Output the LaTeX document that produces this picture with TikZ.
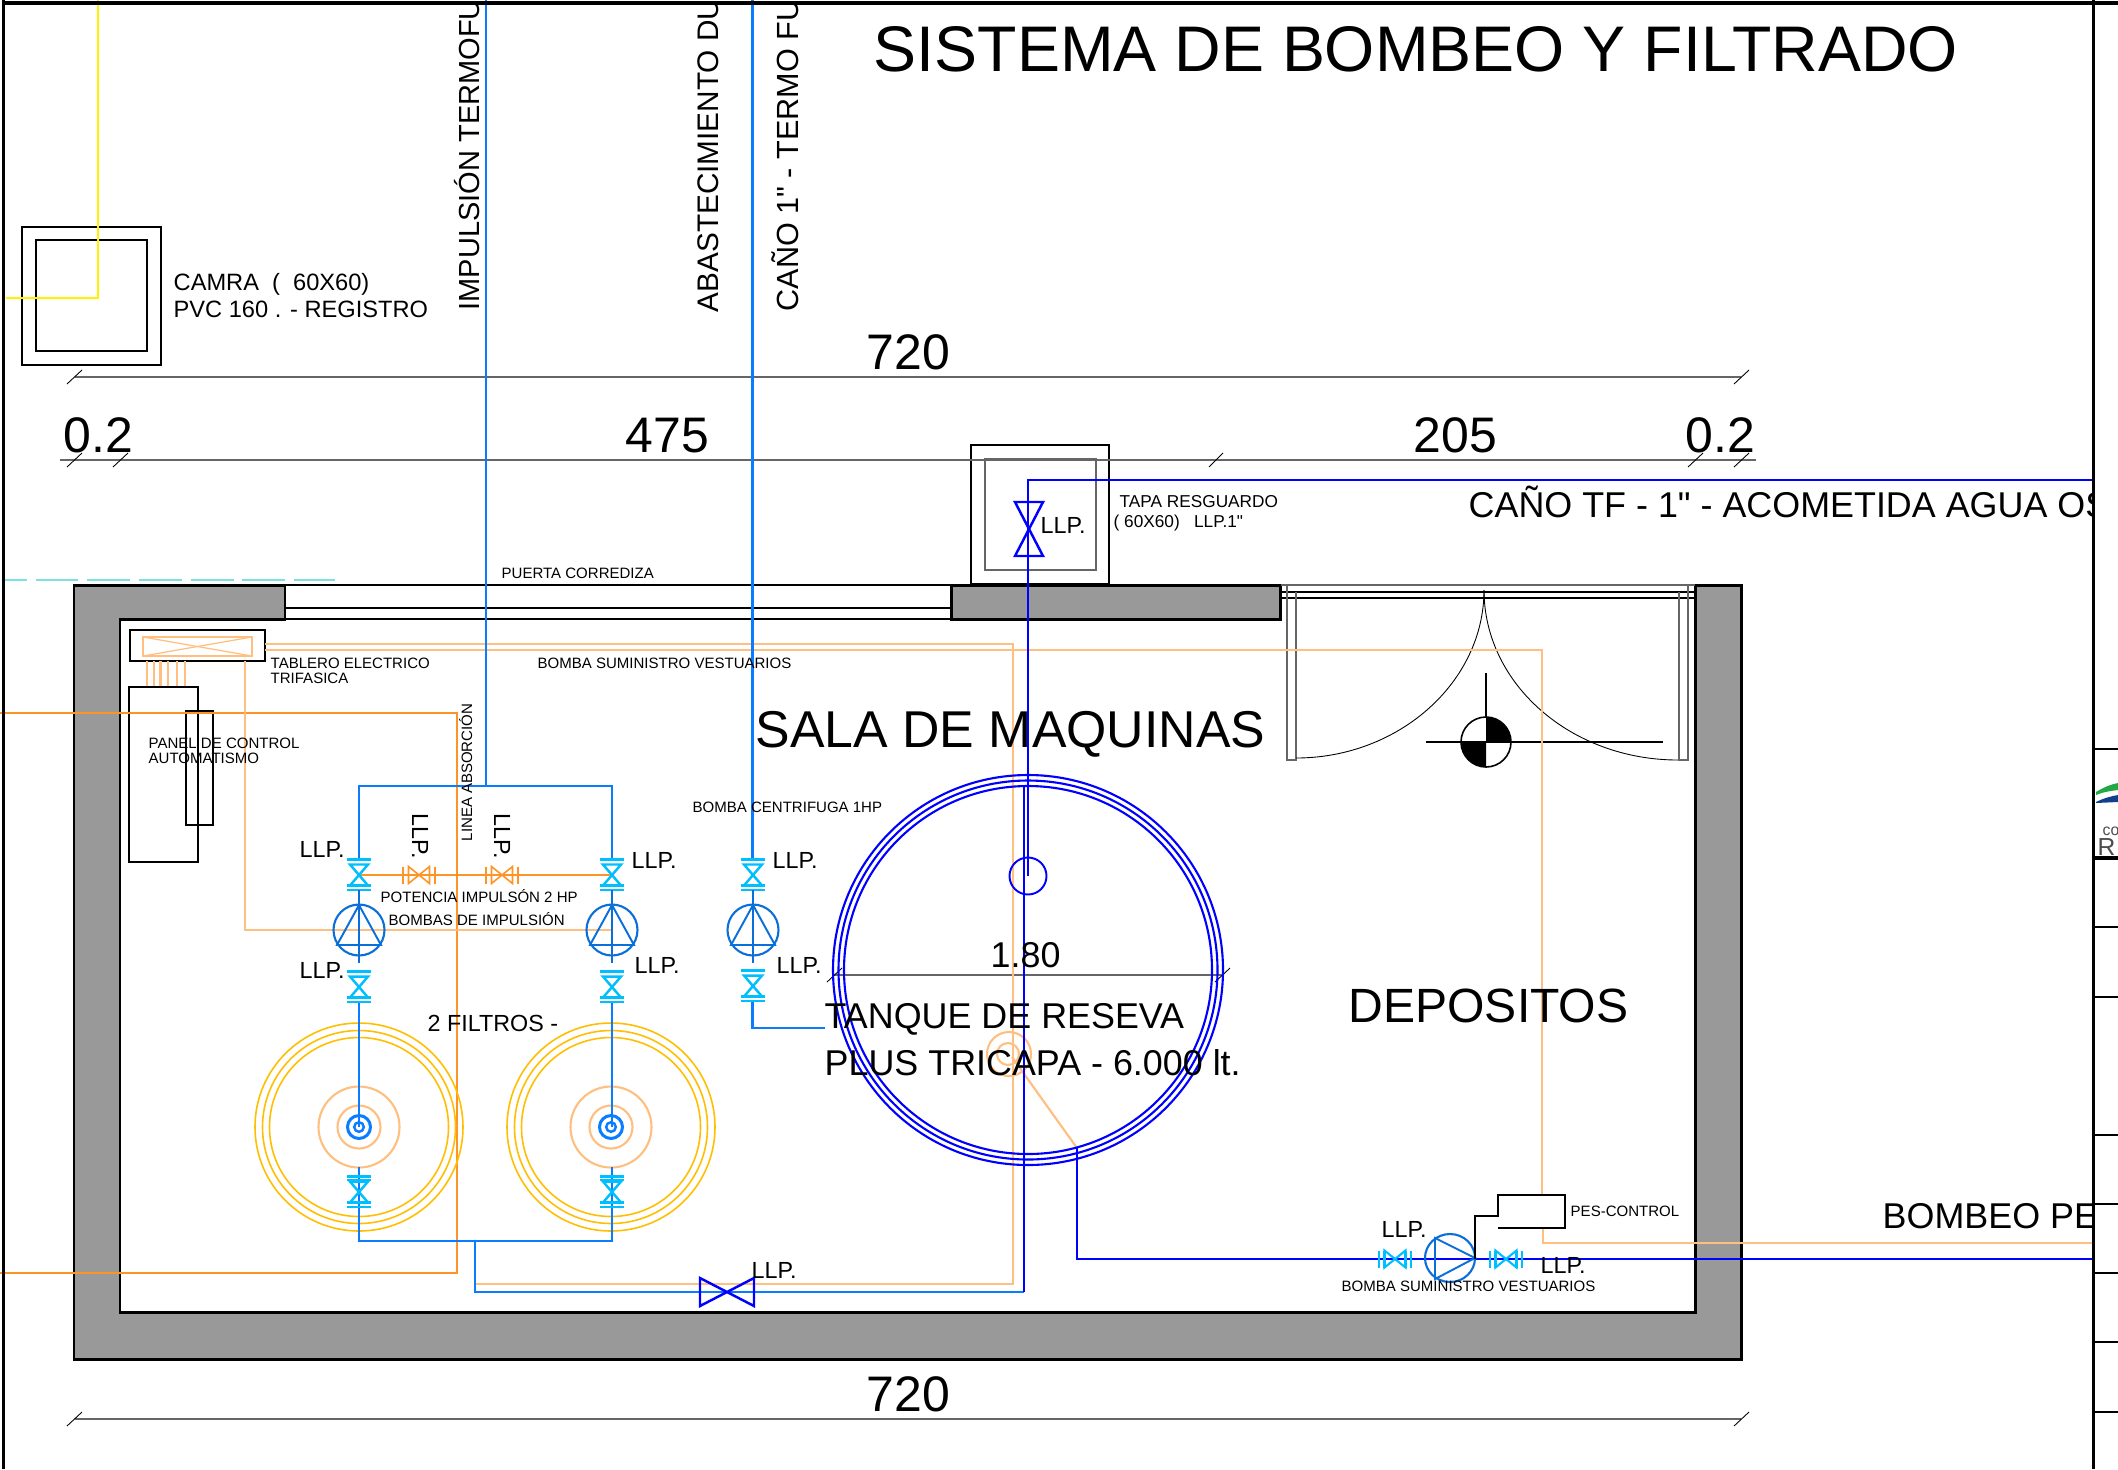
\documentclass[tikz,border=0pt]{standalone}
\usepackage{fontspec}
\setmainfont{Liberation Sans}[Ligatures=TeXOff]

\definecolor{wallgray}{HTML}{999999}
\definecolor{pipeblue}{HTML}{0A7CFF}
\definecolor{darkblue}{HTML}{0000FF}
\definecolor{pumpblue}{HTML}{0A6FD8}
\definecolor{valvecyan}{HTML}{00BFFF}
\definecolor{wireorange}{HTML}{FF9426}
\definecolor{lightorange}{HTML}{FFBF80}
\definecolor{filteryellow}{HTML}{FFBF00}
\definecolor{dimgray}{HTML}{666666}
\definecolor{dashcyan}{HTML}{7FE0E0}
\definecolor{logogreen}{HTML}{22A845}
\definecolor{logoblue}{HTML}{123F8C}

\tikzset{
  lbl/.style={inner sep=0pt, anchor=base west, text=black},
  txtxs/.style={lbl, font=\fontsize{4.27}{5}\selectfont},
  txtsm/.style={lbl, font=\fontsize{4.9}{5}\selectfont},
  txtllp/.style={lbl, font=\fontsize{6.63}{7}\selectfont},
  txtcam/.style={lbl, font=\fontsize{6.72}{7}\selectfont},
  txtvert/.style={lbl, rotate=90, font=\fontsize{#1}{9}\selectfont},
  txtmd/.style={lbl, font=\fontsize{10.2}{11}\selectfont},
  txtlg/.style={lbl, font=\fontsize{14.2}{15}\selectfont},
  txtroom/.style={lbl, font=\fontsize{#1}{16}\selectfont},
  txttitle/.style={lbl, font=\fontsize{18.33}{20}\selectfont},
  thinblack/.style={black, line width=0.35pt},
  dimline/.style={dimgray, line width=0.45pt},
  tick/.style={black, line width=0.25pt},
  pipe/.style={pipeblue, line width=0.7pt},
  dkpipe/.style={darkblue, line width=0.65pt},
  cyanpipe/.style={valvecyan, line width=0.7pt},
  ltwire/.style={lightorange, line width=0.6pt},
  wire/.style={wireorange, line width=0.55pt},
  filt/.style={filteryellow, line width=0.45pt},
  wall/.style={black, fill=wallgray, line width=0.85pt, line join=miter},
  frameline/.style={black, line width=1pt},
  celline/.style={black, line width=0.6pt}
}

% vertical valve with flanges
\newcommand{\vvalve}[2]{
  \draw[cyanpipe] (#1-12,#2-15.5) -- (#1+12,#2-15.5);
  \draw[cyanpipe] (#1-9,#2-10.5) -- (#1+9,#2-10.5) -- (#1-9,#2+10.5) -- (#1+9,#2+10.5) -- cycle;
  \draw[cyanpipe] (#1-12,#2+10.5) -- (#1+12,#2+10.5);
  \draw[cyanpipe] (#1-12,#2+15) -- (#1+12,#2+15);
}
% horizontal valve, colour as third argument
\newcommand{\hvalve}[3]{
  \draw[#3] (#1-16,#2-8.5) -- (#1-16,#2+8.5);
  \draw[#3] (#1-10.5,#2-8.5) -- (#1-10.5,#2+8.5);
  \draw[#3] (#1-10.5,#2-8.5) -- (#1+10.5,#2+8.5) -- (#1+10.5,#2-8.5) -- (#1-10.5,#2+8.5) -- cycle;
  \draw[#3] (#1+10.5,#2-8.5) -- (#1+10.5,#2+8.5);
  \draw[#3] (#1+16,#2-8.5) -- (#1+16,#2+8.5);
}
% pump seen from above
\newcommand{\vpump}[2]{
  \draw[pumpblue, line width=0.6pt] (#1,#2) circle [radius=25.5];
  \draw[pumpblue, line width=0.55pt] (#1,#2-25) -- (#1-22,#2+15) -- (#1+22,#2+15) -- cycle;
  \draw[pumpblue, line width=0.8pt] (#1,#2-40) -- (#1,#2+33);
}
% filter rings
\newcommand{\filterrings}[2]{
  \draw[filt] (#1,#2) circle [radius=104];
  \draw[filt] (#1,#2) circle [radius=96.5];
  \draw[filt] (#1,#2) circle [radius=89.5];
  \draw[ltwire] (#1,#2) circle [radius=40.5];
  \draw[ltwire] (#1,#2) circle [radius=21.5];
  \draw[pipeblue, line width=0.85pt] (#1,#2) circle [radius=11.5];
  \draw[pipeblue, line width=0.7pt] (#1,#2) circle [radius=4.8];
}

\begin{document}
\begin{tikzpicture}[x=0.01cm, y=-0.01cm]
  \useasboundingbox (0,0) rectangle (2118,1469);
  \fill[white] (0,0) rectangle (2118,1469);

  % walls
  \draw[wall] (74,585) -- (285,585) -- (285,619) -- (120,619) -- (120,1312) -- (1695,1312)
     -- (1695,585) -- (1741,585) -- (1741,1359) -- (74,1359) -- cycle;
  \draw[wall] (951,585) rectangle (1280,619);

  % sliding door
  \draw[thinblack] (285,585) -- (951,585);
  \draw[thinblack] (285,608) -- (951,608);
  \draw[thinblack] (285,619) -- (951,619);
  \draw[black, line width=0.8pt] (844,619) -- (951,619);

  % double door
  \draw[dimline] (1281,585) -- (1695,585);
  \draw[thinblack] (1281,592) -- (1695,592);
  \draw[thinblack] (1281,598) -- (1695,598);
  \draw[dimline] (1287,585) -- (1287,760) -- (1296,760) -- (1296,592);
  \draw[dimline] (1679,592) -- (1679,760) -- (1688,760) -- (1688,585);
  \draw[tick] (1296,758) .. controls (1399,758) and (1484,682) .. (1484,590);
  \draw[tick] (1678,760) .. controls (1571,760) and (1484,684) .. (1484,590);

  % level mark
  \draw[black, line width=0.45pt] (1426,742) -- (1663,742);
  \draw[black, line width=0.45pt] (1486,673) -- (1486,742);
  \fill[white] (1486,742) circle [radius=25];
  \fill[black] (1486,742) -- (1486,717) arc[start angle=-90, end angle=0, radius=25] -- cycle;
  \fill[black] (1486,742) -- (1486,767) arc[start angle=90, end angle=180, radius=25] -- cycle;
  \draw[black, line width=0.45pt] (1486,742) circle [radius=25];
  \draw[black, line width=0.45pt] (1461,742) -- (1511,742);

  % chamber boxes
  \draw[thinblack] (22,227) rectangle (161,365);
  \draw[thinblack] (36,240) rectangle (147,351);
  \draw[thinblack] (971,445) rectangle (1109,584);
  \draw[dimline] (985,459) rectangle (1096,570);
  \draw[yellow, line width=0.6pt] (98,0) -- (98,298) -- (6,298);
  \draw[dashcyan, line width=0.55pt, dash pattern=on 12.2pt off 2.5pt, dash phase=6pt] (5,580) -- (335,580);

  % dimensions
  \draw[dimline] (75,377) -- (1741,377);
  \draw[dimline] (60,460) -- (1756,460);
  \draw[dimline] (75,1419) -- (1741,1419);
  \draw[dimline] (834,975) -- (1222,975);
  \draw[tick] (67,384) -- (82,370);
  \draw[tick] (1734,384) -- (1749,370);
  \draw[tick] (67,467) -- (82,453);
  \draw[tick] (113,467) -- (128,453);
  \draw[tick] (1209,467) -- (1223,453);
  \draw[tick] (1688,467) -- (1703,453);
  \draw[tick] (1734,467) -- (1749,453);
  \draw[tick] (67,1426) -- (82,1412);
  \draw[tick] (1734,1426) -- (1749,1412);
  \draw[tick] (827,982) -- (842,968);
  \draw[tick] (1215,982) -- (1230,968);

  % panel and switchboard
  \draw[black, line width=0.65pt] (130,630) rectangle (265,661);
  \draw[ltwire] (143,637) rectangle (252,656);
  \draw[ltwire, line width=0.35pt] (143,637) -- (252,656);
  \draw[ltwire, line width=0.35pt] (143,656) -- (252,637);
  \draw[ltwire] (147,661) -- (147,687);
  \draw[ltwire] (154,661) -- (154,687);
  \draw[ltwire] (160.5,661) -- (160.5,687);
  \draw[ltwire] (168,661) -- (168,687);
  \draw[ltwire] (177,661) -- (177,687);
  \draw[ltwire] (185,661) -- (185,687);
  \draw[black, line width=0.5pt] (129,687) rectangle (198,862);
  \draw[black, line width=0.5pt] (186,711) rectangle (213,825);

  % wires
  \draw[wire] (0,713) -- (457,713) -- (457,1273) -- (0,1273);
  \draw[wire] (359,875) -- (612,875);
  \draw[ltwire] (245,661) -- (245,930) -- (612,930);
  \draw[ltwire] (265,644) -- (1013,644) -- (1013,1284) -- (475,1284);
  \draw[ltwire] (265,650) -- (1542,650) -- (1542,1195);
  \draw[ltwire] (1543,1228) -- (1543,1243) -- (2093,1243);
  \draw[ltwire] (1009,1054) circle [radius=22];
  \draw[ltwire] (1008,1054) circle [radius=11];
  \draw[ltwire] (1012,1057) -- (1077,1148);
  \hvalve{419}{875}{wireorange, line width=0.45pt}
  \hvalve{502}{875}{wireorange, line width=0.45pt}

  % filters
  \filterrings{359}{1127}
  \filterrings{611}{1127}

  % tank
  \draw[darkblue, line width=0.6pt] (1028,970) circle [radius=195];
  \draw[darkblue, line width=0.6pt] (1028,970) circle [radius=189.5];
  \draw[darkblue, line width=0.6pt] (1028,970) circle [radius=184];
  \draw[darkblue, line width=0.55pt] (1028,876) circle [radius=18.5];

  % pipes
  \draw[pipe] (486,0) -- (486,786);
  \draw[pipe] (359,859) -- (359,786) -- (612,786) -- (612,859);
  \draw[pipe] (359,1001) -- (359,1127);
  \draw[pipe] (612,1001) -- (612,1127);
  \draw[pipe] (359,1167) -- (359,1241) -- (612,1241) -- (612,1167);
  \draw[pipe] (475,1241) -- (475,1292) -- (1024,1292);
  \draw[pipe] (752.5,0) -- (752.5,859);
  \draw[pipe] (752.5,1001) -- (752.5,1028) -- (825,1028);
  \draw[dkpipe] (1024,1292) -- (1024,785);
  \draw[dkpipe] (1028,876) -- (1028,480) -- (2093,480);
  \draw[dkpipe] (1077,1148) -- (1077,1259) -- (2093,1259);

  % valves and pumps
  \vvalve{359}{875}
  \vvalve{612}{875}
  \vvalve{753}{875}
  \vpump{359}{930}
  \vpump{612}{930}
  \vpump{753}{930}
  \vvalve{359}{987}
  \vvalve{612}{987}
  \vvalve{753}{986}
  \vvalve{359}{1192}
  \vvalve{612}{1192}
  \draw[cyanpipe] (347,1180) -- (371,1180);
  \draw[cyanpipe] (600,1180) -- (624,1180);
  \draw[darkblue, line width=0.7pt] (700,1278) -- (754,1306) -- (754,1278) -- (700,1306) -- cycle;
  \draw[darkblue, line width=0.7pt] (1015,502) -- (1043,502) -- (1015,556) -- (1043,556) -- cycle;

  % bottom pump
  \draw[pumpblue, line width=0.6pt] (1450,1258) ellipse [x radius=25, y radius=24];
  \draw[pumpblue, line width=0.55pt] (1435,1238) -- (1475,1258) -- (1435,1279) -- cycle;
  \hvalve{1395}{1259}{valvecyan, line width=0.6pt}
  \hvalve{1506}{1259}{valvecyan, line width=0.6pt}
  \draw[black, line width=0.5pt] (1475,1259) -- (1475,1216) -- (1498,1216) -- (1498,1195)
     -- (1565,1195) -- (1565,1228) -- (1498,1228);

  % labels
  \node[txttitle] (title) at (873,71) {SISTEMA DE BOMBEO Y FILTRADO};
  \node[txtcam] (camra) at (173,290) {CAMRA~~(~~60X60)};
  \node[txtcam] (pvc) at (173,317) {PVC 160 . - REGISTRO};
  \node[txtlg] (dimTop) at (866,369) {720};
  \node[txtlg] (dimLeft) at (63,452) {0.2};
  \node[txtlg] (dimMid) at (625,452) {475};
  \node[txtlg] (dimRightA) at (1413,452) {205};
  \node[txtlg] (dimRightB) at (1685,452) {0.2};
  \node[txtlg] (dimBottom) at (866,1411) {720};
  \node[txtxs] (puerta) at (501,578) {PUERTA CORREDIZA};
  \node[txtsm] (tapaA) at (1119,507) {TAPA RESGUARDO};
  \node[txtsm] (tapaB) at (1113,527) {( 60X60)~~~LLP.1"};
  \node[txtxs] (tableroA) at (270,668) {TABLERO ELECTRICO};
  \node[txtxs] (tableroB) at (270,683) {TRIFASICA};
  \node[txtxs] (suministro) at (537,668) {BOMBA SUMINISTRO VESTUARIOS};
  \node[txtxs] (panelA) at (148,748) {PANEL DE CONTROL};
  \node[txtxs] (panelB) at (148,763) {AUTOMATISMO};
  \node[txtxs, rotate=90] (linea) at (472,842) {LINEA ABSORCIÓN};
  \node[txtxs] (potencia) at (380,902) {POTENCIA IMPULSÓN 2 HP};
  \node[txtxs] (bombas) at (388,925) {BOMBAS DE IMPULSIÓN};
  \node[txtllp] (filtros) at (427,1031) {2 FILTROS -};
  \node[txtxs] (centrifuga) at (692,812) {BOMBA CENTRIFUGA 1HP};
  \node[txtroom=14.73] (sala) at (755,747) {SALA DE MAQUINAS};
  \node[txtmd] (diam) at (990,967) {1.80};
  \node[txtmd] (tanqueA) at (824,1028) {TANQUE DE RESEVA};
  \node[txtmd] (tanqueB) at (824,1075) {PLUS TRICAPA - 6.000 lt.};
  \node[txtroom=13.67] (depositos) at (1348,1022) {DEPOSITOS};
  \node[txtxs] (pes) at (1570,1216) {PES-CONTROL};
  \node[txtxs] (vestuarios) at (1341,1291) {BOMBA SUMINISTRO VESTUARIOS};
  \node[txtllp] (llpA) at (299,857) {LLP.};
  \node[txtllp] (llpB) at (631,868) {LLP.};
  \node[txtllp] (llpC) at (299,978) {LLP.};
  \node[txtllp] (llpD) at (634,973) {LLP.};
  \node[txtllp, rotate=-90] (llpE) at (412,813) {LLP.};
  \node[txtllp, rotate=-90] (llpF) at (494,813) {LLP.};
  \node[txtllp] (llpG) at (772,868) {LLP.};
  \node[txtllp] (llpH) at (776,973) {LLP.};
  \node[txtllp] (llpI) at (1040,533) {LLP.};
  \node[txtllp] (llpJ) at (751,1278) {LLP.};
  \node[txtllp] (llpK) at (1381,1237) {LLP.};
  \node[txtllp] (llpL) at (1540,1273) {LLP.};

  % labels cut by the sheet frame
  \begin{scope}
    \clip (5,5) rectangle (2092,1469);
    \node[txtvert=8.25] (impulsion) at (479,311) {IMPULSIÓN TERMOFU};
    \node[txtvert=8.46] (abasto) at (718,313) {ABASTECIMIENTO DU};
    \node[txtvert=8.7] (cano) at (798,312) {CAÑO 1" - TERMO FU};
    \node[txtmd] (acometida) at (1468,517) {CAÑO TF - 1" - ACOMETIDA AGUA OS};
    \node[txtmd] (bombeo) at (1882,1228) {BOMBEO PE};
  \end{scope}

  % logo at the sheet edge
  \fill[logogreen] (2096,792) .. controls (2104,787) and (2112,784) .. (2118,783) -- (2118,790) .. controls (2110,791) and (2103,792) .. (2096,795) -- cycle;
  \fill[logoblue] (2096,802) .. controls (2104,798) and (2112,796) .. (2118,795) -- (2118,802) -- (2096,803) -- cycle;
  \node[lbl, font=\fontsize{4.5}{5}\selectfont, text=black!70] (logoCo) at (2102,835) {co};
  \node[lbl, font=\fontsize{7}{8}\selectfont, text=black!70] (logoR) at (2097,855) {R};

  % sheet frame
  \draw[black, line width=1.3pt] (3,3) -- (2118,3);
  \draw[frameline] (3.5,0) -- (3.5,1469);
  \draw[frameline] (2093.5,0) -- (2093.5,1469);
  \draw[celline] (2093,749) -- (2118,749);
  \draw[black, line width=0.9pt] (2093,858) -- (2118,858);
  \draw[celline] (2093,927) -- (2118,927);
  \draw[celline] (2093,997) -- (2118,997);
  \draw[celline] (2093,1135) -- (2118,1135);
  \draw[celline] (2093,1204) -- (2118,1204);
  \draw[celline] (2093,1273) -- (2118,1273);
  \draw[celline] (2093,1342) -- (2118,1342);
  \draw[celline] (2093,1412) -- (2118,1412);
\end{tikzpicture}
\end{document}
